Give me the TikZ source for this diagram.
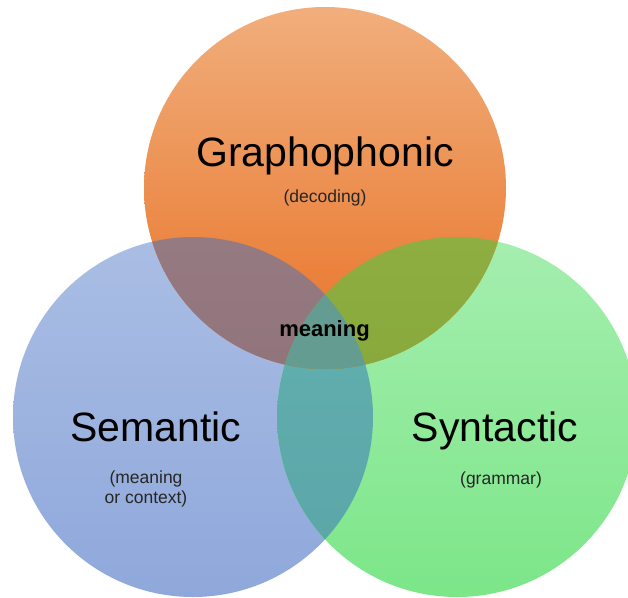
\documentclass[tikz,border=0pt]{standalone}
\usepackage{fontspec}
\setmainfont{Liberation Sans}
\usetikzlibrary{positioning, backgrounds}
\definecolor{cGraphTop}{RGB}{241, 174, 124}
\definecolor{cGraphBot}{RGB}{232, 114, 38}
\definecolor{cSemTop}{RGB}{170, 190, 228}
\definecolor{cSemBot}{RGB}{143, 168, 219}
\definecolor{cSynTop}{RGB}{165, 238, 175}
\definecolor{cSynBot}{RGB}{124, 230, 136}
\definecolor{cGSTop}{RGB}{150, 122, 130}
\definecolor{cGSBot}{RGB}{136, 106, 112}
\definecolor{cGYTop}{RGB}{142, 174, 66}
\definecolor{cGYBot}{RGB}{126, 160, 50}
\definecolor{cSYTop}{RGB}{100, 178, 178}
\definecolor{cSYBot}{RGB}{90, 164, 166}
\definecolor{cAll}{RGB}{100, 156, 146}
\tikzset{
    % --- 圆样式 ---
    styleGraph/.style={top color=cGraphTop, bottom color=cGraphBot},
    styleSem/.style={top color=cSemTop, bottom color=cSemBot},
    styleSyn/.style={top color=cSynTop, bottom color=cSynBot},
    styleGS/.style={top color=cGSTop, bottom color=cGSBot},
    styleGY/.style={top color=cGYTop, bottom color=cGYBot},
    styleSY/.style={top color=cSYTop, bottom color=cSYBot},
    % --- 文字样式 ---
    titleText/.style={font=\fontsize{41}{47}\selectfont, text=black, inner sep=0pt},
    subText/.style={font=\fontsize{17.5}{20}\selectfont, text=black!85, align=center, inner sep=0pt},
    meanText/.style={font=\bfseries\fontsize{22}{26}\selectfont, text=black, inner sep=0pt}
}
\begin{document}
\begin{tikzpicture}[x=1pt, y=-1pt]

	\useasboundingbox (0,0) rectangle (628,597);
	\clip (0,0) rectangle (628,597);

	% =========================================================
	% 1. 圆心 (Centres)
	% =========================================================
	\coordinate (pG) at (325,188);
	\coordinate (pS) at (193,417);
	\coordinate (pY) at (457,417);

	% =========================================================
	% 2. 下方两圆 (Semantic / Syntactic)
	% =========================================================
	\shade [styleSem] (pS) circle (180pt);
	\shade [styleSyn] (pY) circle (180pt);
	\begin{scope}
		\clip (pS) circle (180pt);
		\shade [styleSY] (pY) circle (180pt);
	\end{scope}

	% =========================================================
	% 3. 上方圆 (Graphophonic) 与重叠区
	% =========================================================
	\shade [styleGraph] (pG) circle (181pt);
	\begin{scope}
		\clip (pG) circle (181pt);
		\shade [styleGS] (pS) circle (180pt);
		\shade [styleGY] (pY) circle (180pt);
	\end{scope}
	\begin{scope}
		\clip (pG) circle (181pt);
		\clip (pS) circle (180pt);
		\fill [cAll] (pY) circle (180pt);
	\end{scope}

	% =========================================================
	% 4. 文字 (Labels)
	% =========================================================
	\node [titleText, anchor=base] (tGraph) at (325,166) {Graphophonic};
	\node [subText, anchor=base] (tGraphSub) at (325,202) {(decoding)};

	\node [titleText, anchor=base] (tSem) at (156,441) {Semantic};
	\node [subText] (tSemSub) at (146,489) {(meaning\\or context)};

	\node [titleText, anchor=base] (tSyn) at (495,441) {Syntactic};
	\node [subText, anchor=base] (tSynSub) at (501,484) {(grammar)};

	\node [meanText] (tMean) at (324.5,331) {meaning};

\end{tikzpicture}
\end{document}
